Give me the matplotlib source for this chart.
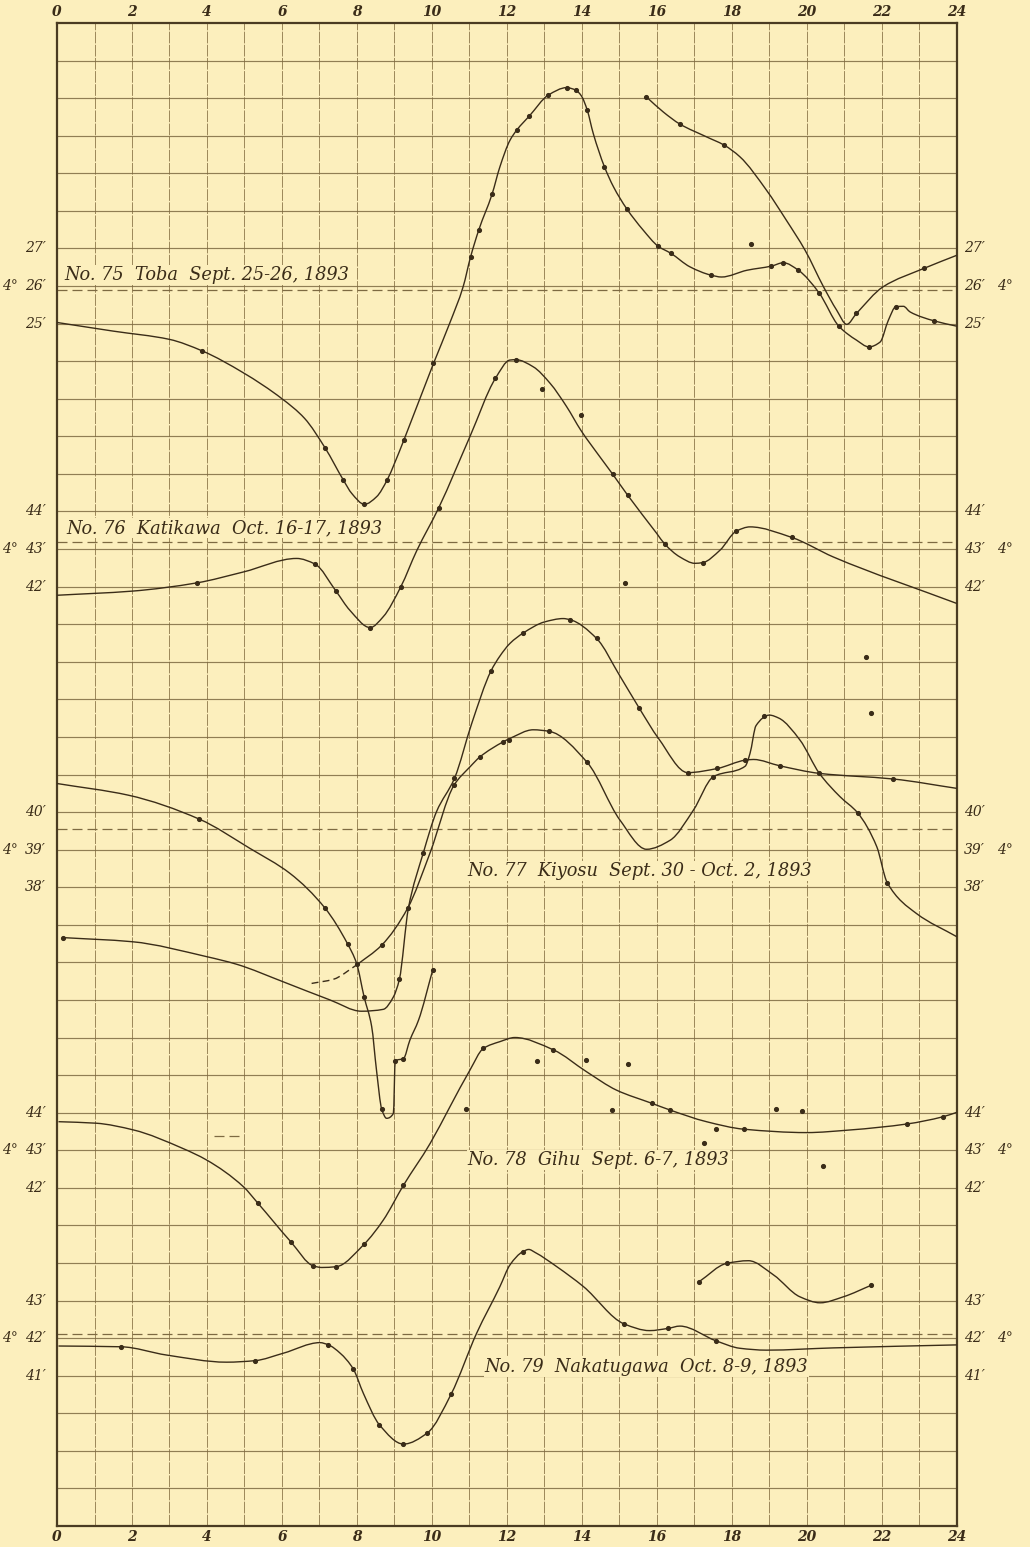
import numpy as np
import matplotlib.pyplot as plt
from matplotlib.path import Path
from matplotlib.patches import PathPatch
from matplotlib.transforms import blended_transform_factory

PAPER = '#FCEFBD'
INK = '#3a2c18'
GRID_V = '#9c8759'
GRID_H = '#7d6a42'
FRAME = '#4a3b22'

HOURS = list(range(0, 25, 2))

# declination readings: hour of day, minutes of arc past 4 deg

# No. 75 Toba, Sept. 25-26, 1893
toba_h = [0, 1.5, 3.0, 3.88, 4.97, 6.0, 6.6, 7.15, 7.64, 7.86, 8.2, 8.52, 8.81,
          9.0, 9.25, 10.04, 10.48, 10.83, 11.03, 11.25, 11.6, 11.81, 12.08, 12.26, 12.6,
          13.1, 13.59, 13.84, 13.99, 14.14, 14.3, 14.6, 14.84, 15.19, 15.63, 16.03, 16.37,
          16.88, 17.44, 17.72, 18.4, 19.05, 19.37, 19.77, 20.32, 20.85, 21.32, 21.65,
          21.95, 22.17, 22.37, 22.57, 22.75, 23.4, 24.0]
toba_m = [25.03, 24.8, 24.58, 24.27, 23.69, 23.0, 22.48, 21.69, 20.83, 20.48, 20.19,
          20.39, 20.85, 21.28, 21.9, 23.94, 25.03, 25.98, 26.78, 27.5, 28.44, 29.17, 29.88,
          30.15, 30.53, 31.08, 31.28, 31.21, 31.05, 30.68, 30.06, 29.17, 28.64, 28.06, 27.49,
          27.06, 26.87, 26.51, 26.29, 26.24, 26.42, 26.53, 26.62, 26.42, 25.82, 24.93, 24.56,
          24.38, 24.51, 25.09, 25.45, 25.46, 25.31, 25.07, 24.93]
toba2_h = [15.72, 16.17, 16.61, 17.32, 17.79, 18.21, 18.92, 19.45, 19.95, 20.44, 20.79,
           21.06, 21.32, 22.03, 23.12, 24.0]
toba2_m = [31.03, 30.63, 30.31, 29.97, 29.75, 29.44, 28.55, 27.75, 26.95, 25.98, 25.36,
           24.98, 25.27, 25.98, 26.47, 26.82]
toba_obs_h = [3.88, 7.15, 7.64, 8.2, 8.81, 9.25, 10.04, 11.03, 11.25, 11.6, 12.26, 12.6,
              13.1, 13.59, 13.84, 14.14, 14.6, 15.19, 16.03, 16.37, 17.44, 19.05, 19.37,
              19.77, 20.32, 20.85, 21.65, 22.37, 23.4, 15.72, 16.61, 17.79, 21.32, 23.12, 18.5]
toba_obs_m = [24.27, 21.69, 20.83, 20.19, 20.85, 21.9, 23.94, 26.78, 27.5, 28.44, 30.15,
              30.53, 31.08, 31.28, 31.21, 30.68, 29.17, 28.06, 27.06, 26.87, 26.29, 26.53,
              26.62, 26.42, 25.82, 24.93, 24.38, 25.45, 25.07, 31.03, 30.31, 29.75, 25.27,
              26.47, 27.13]

# No. 76 Katikawa, Oct. 16-17, 1893
kat_h = [0, 2.0, 3.73, 4.97, 6.39, 6.88, 7.44, 7.81, 8.35, 8.7, 9.17, 9.59, 10.18, 11.01,
         11.69, 12.08, 12.24, 12.7, 13.15, 13.59, 13.97, 14.48, 14.82, 15.22, 15.99, 16.21,
         16.61, 17.01, 17.22, 17.68, 18.12, 18.48, 19.59, 20.7, 24.0]
kat_m = [41.77, 41.88, 42.1, 42.39, 42.75, 42.6, 41.88, 41.37, 40.91, 41.2, 42.0, 42.95,
         44.1, 45.99, 47.54, 48.03, 48.04, 47.85, 47.41, 46.79, 46.16, 45.45, 44.99, 44.43,
         43.42, 43.13, 42.79, 42.62, 42.64, 42.97, 43.48, 43.59, 43.31, 42.79, 41.55]
kat_obs_h = [3.73, 6.88, 7.44, 8.35, 9.17, 10.18, 11.69, 12.24, 14.82, 15.22, 16.21, 17.22,
             18.12, 19.59, 12.94, 13.97, 15.15]
kat_obs_m = [42.1, 42.6, 41.88, 40.91, 42.0, 44.1, 47.54, 48.04, 44.99, 44.43, 43.13, 42.64,
             43.48, 43.31, 47.25, 46.58, 42.1]

# No. 77 Kiyosu, Sept. 30 - Oct. 2, 1893
kyo_a_h = [0, 1.9, 3.8, 5.15, 6.21, 7.15, 7.75, 7.99, 8.19, 8.39, 8.52, 8.66, 8.79, 8.97,
           9.02, 9.24, 9.41, 9.64, 10.02]
kyo_a_m = [40.76, 40.45, 39.81, 39.03, 38.37, 37.44, 36.49, 35.97, 35.08, 34.3, 33.13,
           32.09, 31.85, 31.98, 33.38, 33.44, 33.93, 34.46, 35.8]
kyo_b_h = [0.15, 2.0, 4.0, 4.79, 6.04, 7.28, 8.12, 8.7, 8.97, 9.13, 9.37, 9.77, 10.12, 10.6,
           11.06, 11.57, 11.81, 12.08, 12.44, 13.0, 13.5, 13.68, 14.39, 15.0, 15.53, 16.04,
           16.82, 17.61, 18.35, 18.57, 19.28, 20.33, 22.3, 24.0]
kyo_b_m = [36.66, 36.55, 36.15, 35.95, 35.48, 35.0, 34.7, 34.75, 35.08, 35.55, 37.44, 38.92,
           40.01, 40.9, 42.36, 43.75, 44.15, 44.49, 44.77, 45.06, 45.15, 45.12, 44.62, 43.64,
           42.76, 41.96, 41.05, 41.16, 41.38, 41.4, 41.23, 41.03, 40.88, 40.63]
kyo_c0_h = [6.79, 7.37, 7.99]
kyo_c0_m = [35.44, 35.55, 35.93]
kyo_c_h = [7.99, 8.66, 9.35, 9.95, 10.59, 11.01, 11.28, 11.9, 12.08, 12.7, 13.12, 14.14,
           15.01, 15.72, 16.35, 16.97, 17.5, 18.35, 18.48, 18.64, 19.0, 19.25, 19.81, 20.33,
           20.88, 21.35, 21.86, 22.14, 22.92, 24.0]
kyo_c_m = [35.93, 36.46, 37.44, 38.92, 40.72, 41.2, 41.47, 41.87, 41.96, 42.19, 42.15, 41.32,
           39.79, 39.01, 39.25, 40.05, 40.94, 41.22, 41.56, 42.3, 42.58, 42.5, 41.92, 41.03,
           40.41, 39.98, 39.08, 38.12, 37.3, 36.68]
kyo_obs_h = [0.15, 9.13, 9.77, 10.6, 11.57, 12.44, 13.68, 14.39, 15.53, 16.82, 17.61, 18.35,
             19.28, 20.33, 22.3, 3.8, 7.15, 7.75, 7.99, 8.19, 8.66, 9.02, 9.24, 10.02,
             8.66, 9.35, 10.59, 11.28, 11.9, 12.05, 13.12, 14.14, 17.5, 18.86, 21.35, 22.14,
             21.57, 21.71]
kyo_obs_m = [36.66, 35.55, 38.92, 40.9, 43.75, 44.77, 45.12, 44.62, 42.76, 41.05, 41.16,
             41.38, 41.23, 41.03, 40.88, 39.81, 37.44, 36.49, 35.97, 35.08, 32.09, 33.38,
             33.44, 35.8, 36.46, 37.44, 40.72, 41.47, 41.87, 41.93, 42.15, 41.32, 40.94,
             42.56, 39.98, 38.12, 44.12, 42.65]

# No. 78 Gihu, Sept. 6-7, 1893
gihu_h = [0.04, 1.04, 2.04, 3.35, 3.99, 4.97, 5.35, 6.23, 6.84, 7.06, 7.44, 8.19, 8.7, 9.24,
          9.95, 10.48, 11.01, 11.37, 11.81, 12.21, 13.24, 14.12, 14.92, 15.86, 16.35, 17.32,
          18.32, 19.99, 21.15, 22.67, 23.62, 24.0]
gihu_m = [43.76, 43.72, 43.54, 43.05, 42.74, 42.03, 41.6, 40.57, 39.92, 39.88, 39.9, 40.5,
          41.14, 42.07, 43.18, 44.16, 45.13, 45.71, 45.89, 46.0, 45.67, 45.09, 44.6, 44.25,
          44.07, 43.76, 43.56, 43.47, 43.54, 43.7, 43.89, 44.01]
gihu_obs_h = [5.35, 6.23, 6.84, 7.44, 8.19, 9.24, 11.37, 13.24, 15.86, 16.35, 18.32, 22.67,
              23.62, 10.92, 12.79, 14.11, 15.22, 14.79, 17.26, 17.57, 19.17, 19.86, 20.44]
gihu_obs_m = [41.6, 40.57, 39.92, 39.9, 40.5, 42.07, 45.71, 45.67, 44.25, 44.07, 43.56, 43.7,
              43.89, 44.11, 45.37, 45.4, 45.29, 44.07, 43.2, 43.56, 44.1, 44.04, 42.59]

# No. 79 Nakatugawa, Oct. 8-9, 1893
nak_h = [0.04, 1.71, 2.92, 4.52, 5.28, 6.04, 7.01, 7.24, 7.55, 7.9, 8.17, 8.6, 9.24, 9.88,
         10.51, 11.19, 11.81, 12.08, 12.42, 12.58, 12.75, 13.33, 14.04, 15.12, 15.8, 16.3,
         16.61, 17.57, 18.21, 18.92, 20.7, 24.0]
nak_m = [41.79, 41.77, 41.55, 41.36, 41.4, 41.6, 41.88, 41.82, 41.6, 41.18, 40.53, 39.69,
         39.18, 39.48, 40.51, 42.13, 43.37, 43.95, 44.3, 44.36, 44.28, 43.9, 43.37, 42.38,
         42.2, 42.26, 42.32, 41.93, 41.73, 41.68, 41.74, 41.82]
nak2_h = [17.12, 17.86, 18.44, 19.11, 19.81, 20.35, 20.97, 21.72]
nak2_m = [43.5, 43.99, 44.06, 43.68, 43.1, 42.94, 43.1, 43.41]
nak_obs_h = [1.71, 5.28, 7.24, 7.9, 8.6, 9.24, 9.88, 10.51, 12.42, 15.12, 16.3, 17.57,
             17.12, 17.86, 21.72]
nak_obs_m = [41.77, 41.4, 41.82, 41.18, 39.69, 39.18, 39.48, 40.51, 44.3, 42.38, 42.26,
             41.93, 43.5, 43.99, 43.41]

stations = [
    dict(title='No. 75  Toba  Sept. 25-26, 1893', row=32, base=25, marks=[27, 26, 25],
         normal=25.89, normal_span=(0, 24), title_at=(0.2, 33.3),
         curves=[(toba_h, toba_m, '-'), (toba2_h, toba2_m, '-')],
         obs=(toba_obs_h, toba_obs_m)),
    dict(title='No. 76  Katikawa  Oct. 16-17, 1893', row=25, base=42, marks=[44, 43, 42],
         normal=43.19, normal_span=(0, 24), title_at=(0.25, 26.55),
         curves=[(kat_h, kat_m, '-')], obs=(kat_obs_h, kat_obs_m)),
    dict(title='No. 77  Kiyosu  Sept. 30 - Oct. 2, 1893', row=17, base=38, marks=[40, 39, 38],
         normal=39.54, normal_span=(0, 24), title_at=(10.95, 17.43),
         curves=[(kyo_a_h, kyo_a_m, '-'), (kyo_b_h, kyo_b_m, '-'),
                 (kyo_c0_h, kyo_c0_m, '--'), (kyo_c_h, kyo_c_m, '-')],
         obs=(kyo_obs_h, kyo_obs_m)),
    dict(title='No. 78  Gihu  Sept. 6-7, 1893', row=9, base=42, marks=[44, 43, 42],
         normal=43.38, normal_span=(4.2, 5.0), title_at=(10.95, 9.74),
         curves=[(gihu_h, gihu_m, '-')], obs=(gihu_obs_h, gihu_obs_m)),
    dict(title='No. 79  Nakatugawa  Oct. 8-9, 1893', row=4, base=41, marks=[43, 42, 41],
         normal=42.12, normal_span=(0, 24), title_at=(11.4, 4.23),
         curves=[(nak_h, nak_m, '-'), (nak2_h, nak2_m, '-')], obs=(nak_obs_h, nak_obs_m)),
]


def hermite_slopes(x, y):
    # shape-preserving slopes (no overshoot at the sharp turns)
    h = np.diff(x)
    d = np.diff(y) / h
    m = np.zeros_like(y)
    m[0], m[-1] = d[0], d[-1]
    for i in range(1, len(x) - 1):
        if d[i - 1] * d[i] <= 0:
            m[i] = 0.0
        else:
            w1 = 2 * h[i] + h[i - 1]
            w2 = h[i] + 2 * h[i - 1]
            m[i] = (w1 + w2) / (w1 / d[i - 1] + w2 / d[i])
    return m


def smooth_path(xs, ys):
    x = np.asarray(xs, dtype=float)
    y = np.asarray(ys, dtype=float)
    m = hermite_slopes(x, y)
    verts = [(x[0], y[0])]
    codes = [Path.MOVETO]
    for i in range(len(x) - 1):
        dx = (x[i + 1] - x[i]) / 3.0
        verts += [(x[i] + dx, y[i] + m[i] * dx),
                  (x[i + 1] - dx, y[i + 1] - m[i + 1] * dx),
                  (x[i + 1], y[i + 1])]
        codes += [Path.CURVE4] * 3
    return Path(verts, codes)


def to_row(st, minutes):
    return st['row'] + (np.asarray(minutes, dtype=float) - st['base'])


fig = plt.figure(figsize=(10.30, 15.47), dpi=100)
fig.patch.set_facecolor(PAPER)
ax = fig.add_axes([57 / 1030, 1 - 1526 / 1547, 900 / 1030, 1503 / 1547])
ax.set_facecolor(PAPER)
ax.set_xlim(0, 24)
ax.set_ylim(0, 40)

# ruled paper
for h in range(1, 24):
    ax.axvline(h, color=GRID_V, lw=0.7, dashes=(12, 1.5), zorder=1)
for r in range(1, 40):
    ax.axhline(r, color=GRID_H, lw=0.85, alpha=0.85, zorder=1)

for sp in ax.spines.values():
    sp.set_color(FRAME)
    sp.set_linewidth(1.6)

ax.set_xticks(HOURS)
ax.set_xticklabels([str(h) for h in HOURS], fontsize=10, fontstyle='italic',
                   fontweight='bold', family='DejaVu Serif', color=INK)
ax.tick_params(axis='x', length=0, pad=3, top=True, labeltop=True)
ax.set_yticks([])

left = blended_transform_factory(ax.transAxes, ax.transData)
lab_font = dict(fontsize=10, fontstyle='italic', family='DejaVu Serif', color=INK,
                va='center')

for st in stations:
    for h, m, ls in st['curves']:
        y = to_row(st, m)
        patch = PathPatch(smooth_path(h, y), fill=False, ec=INK, lw=1.0, zorder=3,
                          ls=(0, (5, 3)) if ls == '--' else '-')
        ax.add_patch(patch)
    oh, om = st['obs']
    ax.plot(oh, to_row(st, om), 'o', ms=2.7, color=INK, zorder=4)

    # normal level of the station
    r = to_row(st, st['normal'])
    x0, x1 = st['normal_span']
    ax.plot([x0, x1], [r, r], color=GRID_H, lw=0.9, dashes=(8, 4), zorder=2)

    tx, ty = st['title_at']
    ax.text(tx, ty, st['title'], fontsize=12.8, fontstyle='italic',
            family='DejaVu Serif', color=INK, va='center', ha='left', zorder=5,
            bbox=dict(boxstyle='square,pad=0.05', fc=PAPER, ec='none'))

    mid = st['marks'][1]
    for m in st['marks']:
        ax.text(-0.012, to_row(st, m), f"{m}\u2032", ha='right', transform=left, **lab_font)
        ax.text(1.008, to_row(st, m), f"{m}\u2032", ha='left', transform=left, **lab_font)
    ax.text(-0.043, to_row(st, mid), '4\u00b0', ha='right', transform=left, **lab_font)
    ax.text(1.045, to_row(st, mid), '4\u00b0', ha='left', transform=left, **lab_font)

fig.savefig('out.png', dpi=100, facecolor=PAPER)
